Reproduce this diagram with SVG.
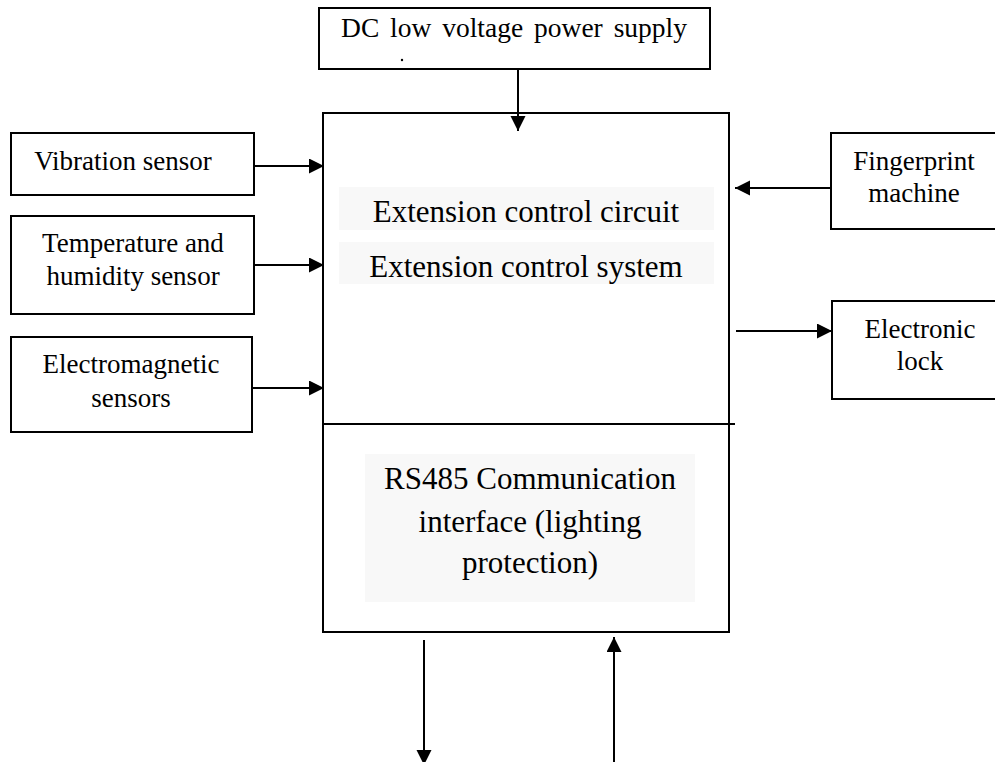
<svg xmlns="http://www.w3.org/2000/svg" width="995" height="762" viewBox="0 0 995 762">
<defs>
<style>
.box{fill:#fff;stroke:#000;stroke-width:2}
.bg{fill:#f8f8f8;stroke:none}
.t{font-family:"Liberation Serif","Times New Roman",serif;fill:#000;text-anchor:middle}
.s{font-size:27px}
.m{font-size:31px}
.c{stroke:#000;stroke-width:2;fill:none}
</style>
<marker id="ah" markerUnits="userSpaceOnUse" markerWidth="16" markerHeight="16" refX="15" refY="7.5" orient="auto" viewBox="0 0 16 16">
<path d="M0,0 L15,7.5 L0,15 z" fill="#000"/>
</marker>
</defs>
<rect width="995" height="762" fill="#fff"/>

<g id="power">
<rect class="box" x="319" y="8" width="391" height="61"/>
<text class="t" x="514" y="37" font-size="27.5" word-spacing="4">DC low voltage power supply</text>
<circle cx="402" cy="60" r="1.2" fill="#000"/>
</g>

<g id="main">
<rect class="box" x="323" y="113" width="406" height="519"/>
<line x1="323" y1="424" x2="735" y2="424" stroke="#000" stroke-width="2"/>
<rect class="bg" x="339" y="187" width="375" height="43"/>
<rect class="bg" x="339" y="242" width="375" height="42"/>
<text class="t m" x="526" y="222">Extension control circuit</text>
<text class="t m" x="526" y="277">Extension control system</text>
<rect class="bg" x="365" y="454" width="330" height="148"/>
<text class="t m" x="530" y="489">RS485 Communication</text>
<text class="t m" x="530" y="532">interface (lighting</text>
<text class="t m" x="530" y="573">protection)</text>
</g>

<g id="vibration">
<rect class="box" x="11" y="133" width="243" height="62"/>
<text class="t s" x="123" y="170">Vibration sensor</text>
</g>

<g id="temperature">
<rect class="box" x="11" y="216" width="243" height="98"/>
<text class="t s" x="133" y="252">Temperature and</text>
<text class="t s" x="133" y="285">humidity sensor</text>
</g>

<g id="electromagnetic">
<rect class="box" x="11" y="337" width="241" height="95"/>
<text class="t s" x="131" y="373">Electromagnetic</text>
<text class="t s" x="131" y="407">sensors</text>
</g>

<g id="fingerprint">
<rect class="box" x="831" y="133" width="200" height="96"/>
<text class="t s" x="914" y="170">Fingerprint</text>
<text class="t s" x="914" y="202">machine</text>
</g>

<g id="lock">
<rect class="box" x="832" y="301" width="200" height="98"/>
<text class="t s" x="920" y="338">Electronic</text>
<text class="t s" x="920" y="370">lock</text>
</g>

<g id="connectors">
<line class="c" x1="518" y1="69" x2="518" y2="131" marker-end="url(#ah)"/>
<line class="c" x1="254" y1="166" x2="324" y2="166" marker-end="url(#ah)"/>
<line class="c" x1="254" y1="265" x2="324" y2="265" marker-end="url(#ah)"/>
<line class="c" x1="252" y1="388" x2="324" y2="388" marker-end="url(#ah)"/>
<line class="c" x1="831" y1="188" x2="735" y2="188" marker-end="url(#ah)"/>
<line class="c" x1="736" y1="331" x2="832" y2="331" marker-end="url(#ah)"/>
<line class="c" x1="424" y1="640" x2="424" y2="765" marker-end="url(#ah)"/>
<line class="c" x1="614" y1="762" x2="614" y2="637" marker-end="url(#ah)"/>
</g>
</svg>
